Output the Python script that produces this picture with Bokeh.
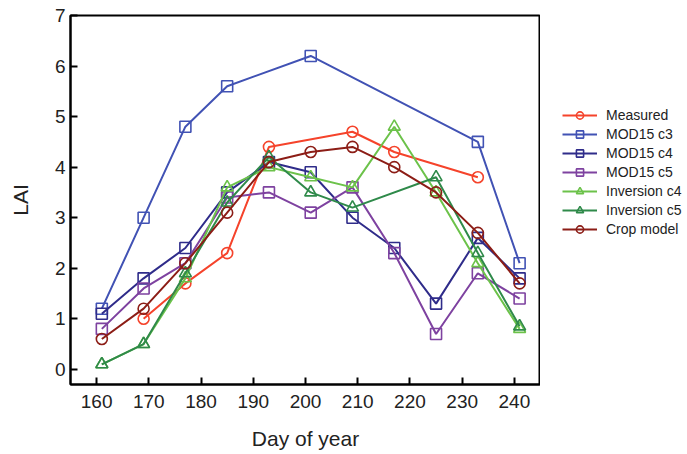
from bokeh.plotting import figure
from bokeh.layouts import row
from bokeh.models import Legend, LegendItem, Range1d, FixedTicker
from bokeh.embed import file_html
from bokeh.resources import INLINE

# ---- data ----
measured_x = [169, 177, 185, 193, 209, 217, 233]
measured_y = [1.0, 1.7, 2.3, 4.4, 4.7, 4.3, 3.8]

mod_c3_x = [161, 169, 177, 185, 201, 233, 241]
mod_c3_y = [1.2, 3.0, 4.8, 5.6, 6.2, 4.5, 2.1]

mod_c4_x = [161, 169, 177, 185, 193, 201, 209, 217, 225, 233, 241]
mod_c4_y = [1.1, 1.8, 2.4, 3.5, 4.1, 3.9, 3.0, 2.4, 1.3, 2.6, 1.8]

mod_c5_x = [161, 169, 177, 185, 193, 201, 209, 217, 225, 233, 241]
mod_c5_y = [0.8, 1.6, 2.1, 3.4, 3.5, 3.1, 3.6, 2.3, 0.7, 1.9, 1.4]

inv_c4_x = [161, 169, 177, 185, 193, 201, 209, 217, 225, 233, 241]
inv_c4_y = [0.1, 0.5, 1.8, 3.6, 4.0, 3.8, 3.6, 4.8, 3.5, 2.1, 0.8]

inv_c5_x = [161, 169, 177, 185, 193, 201, 209, 225, 233, 241]
inv_c5_y = [0.1, 0.5, 1.9, 3.3, 4.2, 3.5, 3.2, 3.8, 2.3, 0.85]

crop_x = [161, 169, 177, 185, 193, 201, 209, 217, 225, 233, 241]
crop_y = [0.6, 1.2, 2.1, 3.1, 4.1, 4.3, 4.4, 4.0, 3.5, 2.7, 1.7]

x_ticks = [160, 170, 180, 190, 200, 210, 220, 230, 240]
y_ticks = [0, 1, 2, 3, 4, 5, 6, 7]

series = [
    ("Measured", measured_x, measured_y, "#f5432b", "circle"),
    ("MOD15 c3", mod_c3_x, mod_c3_y, "#4152b4", "square"),
    ("MOD15 c4", mod_c4_x, mod_c4_y, "#2f2c8a", "square"),
    ("MOD15 c5", mod_c5_x, mod_c5_y, "#7e42a0", "square"),
    ("Inversion c4", inv_c4_x, inv_c4_y, "#6cc24a", "triangle"),
    ("Inversion c5", inv_c5_x, inv_c5_y, "#2f8a4a", "triangle"),
    ("Crop model", crop_x, crop_y, "#8c1d16", "circle"),
]

FONT = "Liberation Sans"
H = 452

p = figure(width=540, height=H, output_backend="svg", toolbar_location=None,
           x_range=Range1d(155, 245), y_range=Range1d(-0.3, 7))
p.min_border_left = 70
p.min_border_top = 15
p.min_border_bottom = H - 384
p.min_border_right = 0

p.grid.visible = False
p.outline_line_color = "black"
p.outline_line_width = 2
p.background_fill_color = "white"
p.border_fill_color = "white"

for ax in (p.xaxis[0], p.yaxis[0]):
    ax.axis_line_width = 2
    ax.axis_line_color = "black"
    ax.major_tick_in = 7
    ax.major_tick_out = 0
    ax.major_tick_line_width = 2
    ax.minor_tick_line_color = None
    ax.major_label_text_font = FONT
    ax.major_label_text_font_size = "19px"
    ax.major_label_text_color = "#222222"
    ax.axis_label_text_font = FONT
    ax.axis_label_text_font_size = "21px"
    ax.axis_label_text_font_style = "normal"
    ax.axis_label_text_color = "#222222"

p.xaxis.ticker = FixedTicker(ticks=x_ticks)
p.yaxis.ticker = FixedTicker(ticks=y_ticks)
p.xaxis.axis_label = "Day of year"
p.yaxis.axis_label = "LAI"
p.xaxis.major_label_standoff = 10
p.yaxis.major_label_standoff = 5
p.xaxis.axis_label_standoff = 16
p.yaxis.axis_label_standoff = 20

# legend panel: separate figure to the right, same series drawn out of view
pl = figure(width=145, height=H, output_backend="svg", toolbar_location=None,
            x_range=Range1d(0, 1), y_range=Range1d(0, 1))
pl.min_border = 0
pl.axis.visible = False
pl.grid.visible = False
pl.outline_line_color = None
pl.background_fill_color = "white"
pl.border_fill_color = "white"

items = []
for name, xs, ys, color, marker in series:
    sz = 11 if marker != "triangle" else 12
    p.line(xs, ys, line_color=color, line_width=2)
    p.scatter(xs, ys, marker=marker, size=sz, line_color=color,
              line_width=1.6, fill_color="white", fill_alpha=0.0)
    lr = pl.line(xs, ys, line_color=color, line_width=2)
    sr = pl.scatter(xs, ys, marker=marker, size=sz, line_color=color,
                    line_width=1.6, fill_color="white", fill_alpha=0.0)
    items.append(LegendItem(label=name, renderers=[lr, sr]))

legend = Legend(items=items, location=(22, 146))
legend.border_line_color = None
legend.background_fill_alpha = 0
legend.padding = 0
legend.margin = 0
legend.spacing = 1
legend.glyph_width = 35
legend.glyph_height = 18
legend.label_height = 18
legend.label_standoff = 9
legend.label_text_font = FONT
legend.label_text_font_size = "14px"
legend.label_text_color = "#222222"
pl.add_layout(legend)

layout = row(p, pl)
open("out.html", "w").write(file_html(layout, INLINE))
